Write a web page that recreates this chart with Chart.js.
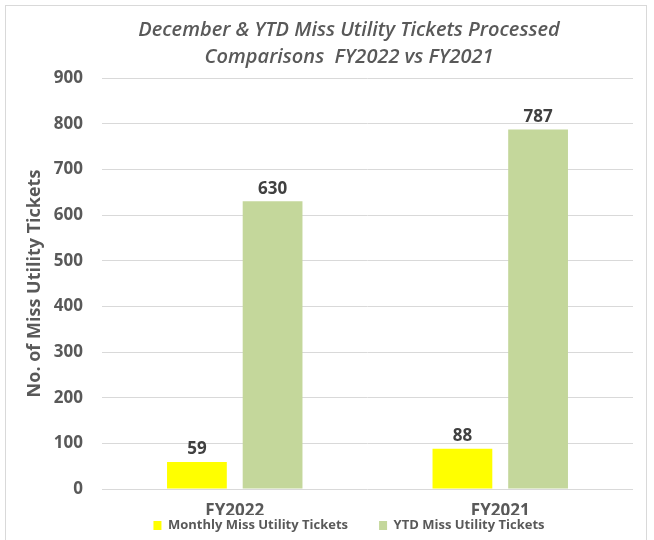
<!DOCTYPE html>
<html>
<head>
<meta charset="utf-8">
<script src="https://cdn.jsdelivr.net/npm/chart.js@4.4.0/dist/chart.umd.min.js"></script>
<style>
  html, body { margin: 0; padding: 0; background: #fff; }
  #wrap { position: relative; width: 654px; height: 540px; overflow: hidden; }
  #frame { position: absolute; left: 5px; top: 5px; width: 640px; height: 540px;
           border: 1px solid #d9d9d9; border-bottom: none; pointer-events: none; }
</style>
</head>
<body>
<div id="wrap">
  <canvas id="chart" width="654" height="540"></canvas>
  <div id="frame"></div>
</div>
<script>
// data tiket miss utility
const categories = ["FY2022", "FY2021"];
const monthlyTickets = [59, 88];
const ytdTickets = [630, 787];
const seriesNames = ["Monthly Miss Utility Tickets", "YTD Miss Utility Tickets"];
const yTicks = [0, 100, 200, 300, 400, 500, 600, 700, 800, 900];

const FONT = "'Open Sans', sans-serif";
const GREY = "#595959";

// label nilai di atas batang
const valueLabels = {
    id: "valueLabels",
    afterDatasetsDraw(chart) {
        const ctx = chart.ctx;
        ctx.save();
        ctx.font = "bold 17px " + FONT;
        ctx.fillStyle = "#404040";
        ctx.textAlign = "center";
        ctx.textBaseline = "bottom";
        chart.data.datasets.forEach((ds, i) => {
            chart.getDatasetMeta(i).data.forEach((bar, j) => {
                ctx.fillText(ds.data[j], bar.x, bar.y - 4);
            });
        });
        ctx.restore();
    }
};

const ctx = document.getElementById("chart").getContext("2d");
const chart = new Chart(ctx, {
    type: "bar",
    data: {
        labels: categories,
        datasets: [
            {
                label: seriesNames[0],
                data: monthlyTickets,
                backgroundColor: "#FFFF00",
                barPercentage: 0.79,
                categoryPercentage: 0.57
            },
            {
                label: seriesNames[1],
                data: ytdTickets,
                backgroundColor: "#C4D79B",
                barPercentage: 0.79,
                categoryPercentage: 0.57
            }
        ]
    },
    options: {
        responsive: false,
        animation: false,
        layout: {
            // kanan negatif + sumbu kosong di kanan supaya judul & legenda agak ke kanan
            padding: { left: 10, right: -34, top: 0, bottom: -2 }
        },
        plugins: {
            title: {
                display: true,
                text: ["December & YTD Miss Utility Tickets Processed", "Comparisons  FY2022 vs FY2021"],
                color: GREY,
                font: { family: FONT, size: 20, style: "italic", weight: "600", lineHeight: 1.35 },
                padding: { top: 17, bottom: 7 }
            },
            legend: {
                position: "bottom",
                labels: {
                    color: GREY,
                    font: { family: FONT, size: 13, weight: "bold" },
                    boxWidth: 8,
                    boxHeight: 9,
                    padding: 4,
                    // jarak antar item legenda lebih lebar
                    generateLabels(chart) {
                        const items = Chart.defaults.plugins.legend.labels.generateLabels(chart);
                        items[0].text += "        ";
                        return items;
                    }
                }
            },
            tooltip: { enabled: false }
        },
        scales: {
            x: {
                grid: { display: false, drawTicks: false },
                border: { display: false },
                ticks: {
                    color: GREY,
                    font: { family: FONT, size: 17, weight: "bold" },
                    padding: 12
                },
                afterFit(scale) { scale.height = 26; }
            },
            y: {
                min: 0,
                max: 900,
                afterBuildTicks(scale) { scale.ticks = yTicks.map(v => ({ value: v })); },
                grid: { color: "#D9D9D9", drawTicks: false },
                border: { display: false },
                ticks: {
                    color: GREY,
                    font: { family: FONT, size: 17, weight: "bold" },
                    padding: 19
                },
                title: {
                    display: true,
                    text: "No. of Miss Utility Tickets",
                    color: GREY,
                    font: { family: FONT, size: 18, weight: "bold" },
                    padding: { top: 14, bottom: 0 }
                },
                afterFit(scale) { scale.width = 92; }
            },
            yRight: {
                position: "right",
                min: 0,
                max: 900,
                grid: { display: false, drawTicks: false },
                border: { display: false },
                ticks: { display: false },
                afterFit(scale) { scale.width = 55; }
            }
        }
    },
    plugins: [valueLabels]
});
</script>
</body>
</html>
